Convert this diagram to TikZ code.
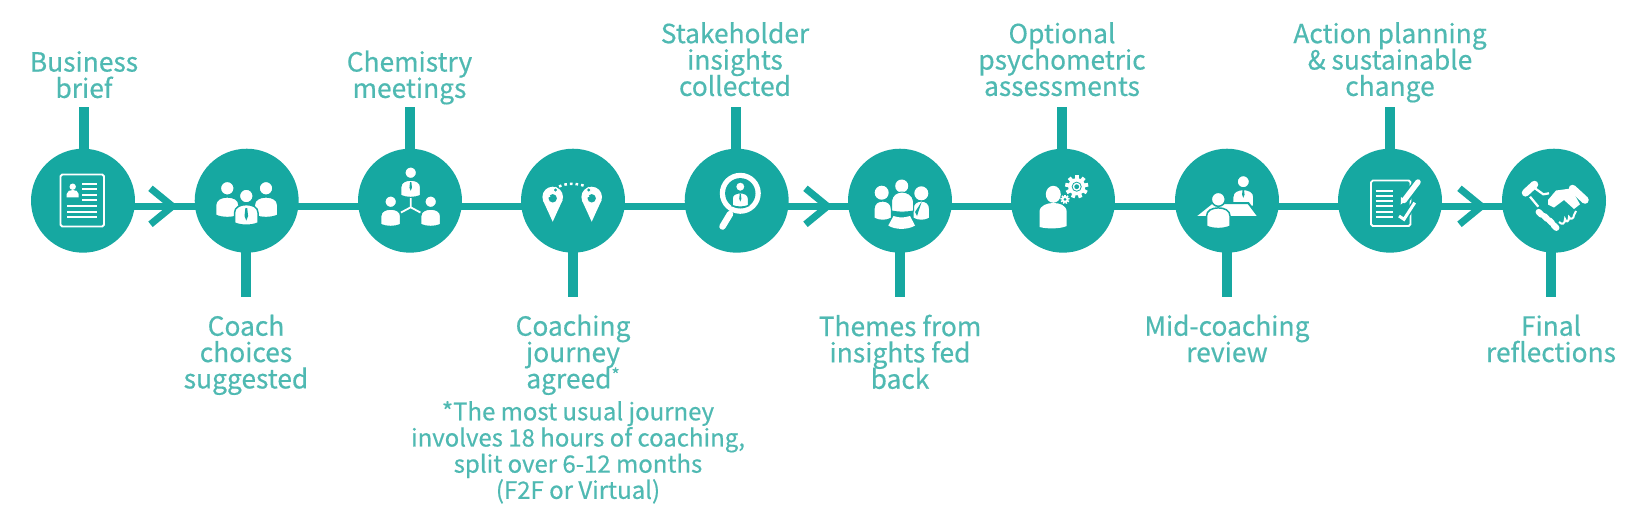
\documentclass[tikz,border=0pt]{standalone}
\usepackage{fontspec}
\usepackage{xcolor}
\setmainfont{Noto Sans CJK SC}[FakeBold=0.5]
\usetikzlibrary{arrows.meta, positioning}
\definecolor{StepTeal}{HTML}{16A8A1}
\definecolor{StepText}{HTML}{4FB9B2}
\newcommand{\steplabelfont}{\fontsize{15}{15}\selectfont\lineskiplimit=-20pt}
\newcommand{\stepnotefont}{\fontsize{13.65}{14.9}\selectfont\lineskiplimit=-20pt}
\newcommand{\stepstar}{\smash{\raisebox{4pt}{\fontsize{10}{10}\selectfont *}}}
\tikzset{
    % Node styles
    stepdisc/.style={circle, fill=StepTeal, minimum size=2.08cm, inner sep=0pt, outer sep=0pt},
    toplabel/.style={anchor=south, align=center, text=StepText, font=\steplabelfont, execute at end node=\strut},
    botlabel/.style={anchor=north, align=center, text=StepText, font=\steplabelfont, execute at begin node=\strut},
    notelabel/.style={anchor=north, align=center, text=StepText, font=\stepnotefont, execute at begin node=\strut},
    % Connector styles
    railline/.style={draw=StepTeal, line width=1.4mm},
    stemline/.style={draw=StepTeal, line width=2mm},
    chevron/.style={draw=StepTeal, line width=1.4mm, -{Straight Barb[length=4.4mm,width=7.2mm,line width=1.4mm]}},
    % Icon styles
    iconline/.style={draw=white, line width=0.36mm},
    person/.pic={
        \fill[white, draw=StepTeal, line width=0.3mm] (0,0) circle (7);
        \fill[white, draw=StepTeal, line width=0.3mm] (-11.8,28.5) -- (-11.8,17) .. controls (-11.8,11) and (-6,8.6) .. (0,8.6) .. controls (6,8.6) and (11.8,11) .. (11.8,17) -- (11.8,27) .. controls (5,30) and (-5,30) .. (-11.8,27) -- cycle;
    },
    tie/.pic={
        \fill[StepTeal] (-0.9,0) -- (0.9,0) -- (1.8,8) -- (0,12.5) -- (-1.8,8) -- cycle;
    },
    gear/.pic={
        \fill[white] (0,0) circle (8.6);
        \foreach \a in {0,40,...,320} {
            \fill[white, rotate=\a] (-1.9,-11.6) rectangle (1.9,-7);
        }
    }
}
\begin{document}
\begin{tikzpicture}[x=0.02cm, y=-0.02cm]
    \useasboundingbox (0,0) rectangle (1644,508);

    % Discs
    \node[stepdisc] (brief) at (83,200.7) {};
    \node[stepdisc] (choices) at (246.7,200.7) {};
    \node[stepdisc] (chemistry) at (410,200.7) {};
    \node[stepdisc] (journey) at (573,200.7) {};
    \node[stepdisc] (insights) at (736.7,200.7) {};
    \node[stepdisc] (themes) at (900,200.7) {};
    \node[stepdisc] (optional) at (1063,200.7) {};
    \node[stepdisc] (midreview) at (1227,200.7) {};
    \node[stepdisc] (planning) at (1390,200.7) {};
    \node[stepdisc] (final) at (1554,200.7) {};

    % Arrow tips on the rail
    \coordinate (tipA) at (178,206.3);
    \coordinate (tipB) at (833,206.3);
    \coordinate (tipC) at (1487,206.3);

    % Rail
    \draw[railline] (brief.center |- tipA) -- (final.center |- tipA);
    \draw[chevron] (brief.center |- tipA) -- (tipA);
    \draw[chevron] (insights.center |- tipA) -- (tipB);
    \draw[chevron] (planning.center |- tipA) -- (tipC);

    % Stem ends
    \coordinate (sbrief) at (84,107.3);
    \coordinate (schemistry) at (409.5,107.3);
    \coordinate (sinsights) at (736,107.3);
    \coordinate (soptional) at (1062,107.3);
    \coordinate (splanning) at (1390,107.3);
    \coordinate (schoices) at (246,297);
    \coordinate (sjourney) at (573,297);
    \coordinate (sthemes) at (900,297);
    \coordinate (sreview) at (1227,297);
    \coordinate (sfinal) at (1551,297);

    % Labels above
    \node[toplabel] (lbrief) at (84,112) {Business\\brief};
    \node[toplabel] (lchemistry) at (409.5,112) {Chemistry\\meetings};
    \node[toplabel] (linsights) at (735,110) {Stakeholder\\insights\\collected};
    \node[toplabel] (loptional) at (1062,110) {Optional\\psychometric\\assessments};
    \node[toplabel] (lplanning) at (1390,110) {Action planning\\\& sustainable\\change};

    % Labels below
    \node[botlabel] (lchoices) at (246,308.5) {Coach\\choices\\suggested};
    \node[botlabel] (ljourney) at (573,308.5) {Coaching\\journey\\agreed\stepstar};
    \node[botlabel] (lthemes) at (900,308.5) {Themes from\\insights fed\\back};
    \node[botlabel] (lreview) at (1227,308.5) {Mid-coaching\\review};
    \node[botlabel] (lfinal) at (1551,308.5) {Final\\reflections};
    \node[notelabel] (lnote) at (578,395) {*The most usual journey\\involves 18 hours of coaching,\\split over 6-12 months\\(F2F or Virtual)};

    % Stems
    \draw[stemline] (brief.center -| sbrief) -- (sbrief);
    \draw[stemline] (chemistry.center -| schemistry) -- (schemistry);
    \draw[stemline] (insights.center -| sinsights) -- (sinsights);
    \draw[stemline] (optional.center -| soptional) -- (soptional);
    \draw[stemline] (planning.center -| splanning) -- (splanning);
    \draw[stemline] (choices.center -| schoices) -- (schoices);
    \draw[stemline] (journey.center -| sjourney) -- (sjourney);
    \draw[stemline] (themes.center -| sthemes) -- (sthemes);
    \draw[stemline] (midreview.center -| sreview) -- (sreview);
    \draw[stemline] (final.center -| sfinal) -- (sfinal);

    % Icon: document
    \draw[iconline, rounded corners=1] (60.5,174.5) rectangle (104,226.5);
    \fill[white] (72.7,186.7) circle (3.2);
    \fill[white] (66.7,197.3) -- (66.7,194) .. controls (67,191) and (70,190) .. (72.7,190) .. controls (75.5,190) and (78.5,191) .. (78.7,194) -- (78.7,197.3) -- cycle;
    \foreach \y in {183.7,189.3,194.7,200} { \draw[iconline] (82,\y) -- (96.7,\y); }
    \foreach \y in {206,212,217.3} { \draw[iconline] (67,\y) -- (96.7,\y); }

    % Icon: three people
    \pic at (227.3,188.3) {person};
    \pic at (266,188.3) {person};
    \pic at (246.3,196) {person};
    \pic at (246.3,208) {tie};

    % Icon: linked people
    \pic[scale=0.85] at (410.7,172.7) {person};
    \pic at (410.7,182) [scale=0.7] {tie};
    \pic[scale=0.85] at (390.7,201.7) {person};
    \pic[scale=0.85] at (430.7,201.7) {person};
    \draw[iconline] (410.7,198) -- (410.7,207.3) -- (401,212.5) (410.7,207.3) -- (420.4,212.5);

    % Icon: map pins
    \fill[white] (552.7,197) circle (10.3);
    \fill[white] (542.8,200) -- (562.6,200) -- (552.7,221.7) -- cycle;
    \fill[white] (591.7,197) circle (10.3);
    \fill[white] (581.8,200) -- (601.6,200) -- (591.7,221.7) -- cycle;
    \fill[StepTeal] (552.7,198.3) circle (4.2);
    \fill[StepTeal] (591.7,198.3) circle (4.2);
    \fill[white] (549.5,196) circle (1);
    \fill[white] (588.5,196) circle (1);
    \draw[white, line width=0.5mm, dash pattern=on 1.5pt off 1.7pt] (559,186.5) .. controls (566,183) and (578,183) .. (586,186.5);
    \draw[white, fill=StepTeal, line width=0.2mm, rotate around={45:(555.5,190)}] (553.7,188.2) rectangle (557.3,191.8);
    \draw[white, fill=StepTeal, line width=0.2mm, rotate around={45:(588.7,190)}] (586.9,188.2) rectangle (590.5,191.8);

    % Icon: magnifier
    \fill[white] (740.3,193.3) circle (20.5);
    \fill[StepTeal] (740.3,193.3) circle (15.2);
    \pic[scale=0.7] at (740.3,186.7) {person};
    \pic[scale=0.6] at (740.3,194) {tie};
    \draw[white, line width=1.3mm, line cap=round] (730,214) -- (722.5,226.5);

    % Icon: group round a table
    \pic[xscale=0.75, yscale=0.95] at (882.7,192.7) {person};
    \fill[white] (881.7,192.7) circle (7);
    \pic[xscale=0.72, yscale=0.95] at (921.3,192.7) {person};
    \fill[white] (921.3,193.3) circle (7);
    \fill[white] (901.7,186) circle (6.5);
    \fill[white, draw=StepTeal, line width=0.2mm] (891.5,211) -- (891.5,201) .. controls (892,195) and (897,192) .. (902,192) .. controls (907,192) and (913,195) .. (913.5,201) -- (913.5,211) .. controls (905,212.5) and (899,212.5) .. (891.5,211) -- cycle;
    \fill[white] (888.3,225.5) -- (893.5,216) .. controls (900,218) and (903,218) .. (910,216) -- (915,225.5) .. controls (908,230) and (895,230) .. (888.3,225.5) -- cycle;
    \fill[StepTeal] (921.7,201.7) -- (917,216) -- (915,212) -- cycle;

    % Icon: person with gears
    \fill[white] (1053.3,194.3) ellipse (7.5 and 8.5);
    \fill[white] (1039.5,227) -- (1039.5,212) .. controls (1039.5,205) and (1048,203) .. (1053.3,203) .. controls (1059,203) and (1066.7,205) .. (1066.7,212) -- (1066.7,226) .. controls (1060,229) and (1047,229) .. (1039.5,227) -- cycle;
    \pic at (1076.7,186.7) {gear};
    \fill[StepTeal] (1076.7,186.7) circle (5);
    \fill[white] (1076.7,186.7) circle (4);
    \fill[StepTeal] (1076.7,186.7) circle (2.4);
    \pic[scale=0.4] at (1065,199.3) {gear};
    \fill[StepTeal] (1065,199.3) circle (1.5);

    % Icon: meeting table
    \pic[scale=0.9] at (1243.3,181.7) {person};
    \pic[scale=0.7] at (1243.3,189) {tie};
    \fill[white, draw=StepTeal, line width=0.4mm] (1194,217.2) -- (1211.7,203) -- (1248.3,203) -- (1259,217.2) -- cycle;
    \pic at (1218.3,199.3) {person};

    % Icon: checklist
    \draw[iconline, rounded corners=1] (1371,180.5) rectangle (1410.5,226);
    \foreach \y in {190.7,195.7,200.7,206,211.7,217.3} { \draw[iconline] (1375.7,\y) -- (1393.3,\y); }
    \draw[StepTeal, line width=1.8mm] (1401,205) -- (1419,181);
    \draw[white, line width=1.1mm, line cap=round] (1404,200.5) -- (1418,182);
    \fill[white] (1400.7,204.5) -- (1401,197) -- (1406,200.7) -- cycle;
    \draw[StepTeal, line width=1.2mm] (1399,216) -- (1404,219.3) -- (1414.7,202.7);
    \draw[white, line width=0.6mm] (1399,216) -- (1404,219.3) -- (1414.7,202.7);

    % Icon: handshake
    \draw[white, line width=1.5mm, line cap=round] (1525.5,192.8) -- (1534.5,184.5);
    \draw[white, line width=1.5mm, line cap=round] (1572.5,188.5) -- (1585,200);
    \fill[white] (1548,200) -- (1556,190.5) -- (1571,188.5) -- (1580,204.3) -- (1574,209) -- (1564,200) -- (1554,207.5) -- (1548,204.5) -- cycle;
    \draw[white, line width=0.45mm] (1535,188.3) -- (1543.3,194.3) -- (1549,193.3);
    \draw[white, line width=0.45mm] (1530,196.7) -- (1538.3,206.7);
    \foreach \p/\q in {1540/213.3,1545.7/217.5,1550.7/221.7,1555/226.5} {
        \draw[white, line width=1.25mm, line cap=round] (\p-1.3,\q-1.3) -- (\p+1.3,\q+1.3);
    }
    \draw[white, line width=0.4mm] (1559,222) .. controls (1562,225) and (1565,224) .. (1565,219) .. controls (1566,223) and (1569,222) .. (1569,217) .. controls (1570,220) and (1574,219) .. (1574,215) -- (1576,211);
\end{tikzpicture}
\end{document}
